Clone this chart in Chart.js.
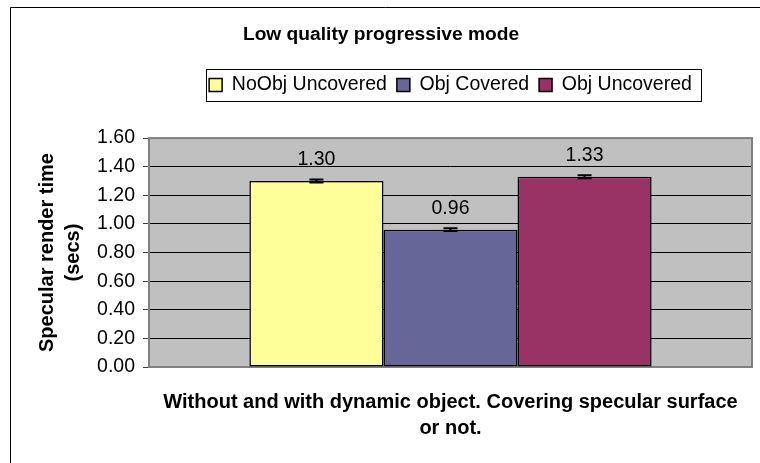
<!DOCTYPE html>
<html>
<head>
<meta charset="utf-8">
<title>Low quality progressive mode</title>
<script src="https://cdn.jsdelivr.net/npm/chart.js@4.4.1/dist/chart.umd.min.js"></script>
<style>
  html,body{margin:0;padding:0;background:#fff;overflow:hidden;}
  #wrap{width:760px;height:463px;position:relative;}
</style>
</head>
<body>
<div id="wrap"><canvas id="renderChart" width="760" height="463"></canvas></div>
<script>
// data
const categories = [''];
const seriesNames = ['NoObj Uncovered', 'Obj Covered', 'Obj Uncovered'];
const noObjUncovered = [1.30];
const objCovered = [0.96];
const objUncovered = [1.33];
const errNoObjUncovered = [0.01];
const errObjCovered = [0.01];
const errObjUncovered = [0.01];
const seriesColors = ['#FFFF99', '#666699', '#993366'];
const yMin = 0, yMax = 1.6, yStep = 0.2;

const chartTitle = 'Low quality progressive mode';
const yTitle = ['Specular render time', '(secs)'];
const xTitle = ['Without and with dynamic object. Covering specular surface', 'or not.'];

const FONT = "'Liberation Sans', Arial, Helvetica, sans-serif";
Chart.defaults.font.family = FONT;
Chart.defaults.color = '#000';

const seriesValues = [noObjUncovered, objCovered, objUncovered];
const seriesErrors = [errNoObjUncovered, errObjCovered, errObjUncovered];

// white page, outer frame and grey plot area
const framePlugin = {
  id: 'frame',
  beforeDraw(chart){
    const ctx = chart.ctx, a = chart.chartArea;
    ctx.save();
    ctx.fillStyle = '#fff';
    ctx.fillRect(0, 0, chart.width, chart.height);
    ctx.strokeStyle = '#000';
    ctx.lineWidth = 1;
    ctx.beginPath();
    ctx.moveTo(10.5, chart.height);
    ctx.lineTo(10.5, 7.5);
    ctx.lineTo(chart.width, 7.5);
    ctx.stroke();
    ctx.fillStyle = '#C0C0C0';
    ctx.fillRect(a.left, a.top, a.right - a.left, a.bottom - a.top);
    ctx.restore();
  },
  beforeDatasetsDraw(chart){
    const ctx = chart.ctx, a = chart.chartArea;
    ctx.save();
    ctx.strokeStyle = '#808080';
    ctx.lineWidth = 2;
    ctx.strokeRect(a.left, a.top, a.right - a.left, a.bottom - a.top);
    ctx.restore();
  }
};

// error bars and value labels
const labelPlugin = {
  id: 'valueLabels',
  afterDatasetsDraw(chart){
    const ctx = chart.ctx, y = chart.scales.y;
    ctx.save();
    chart.data.datasets.forEach((ds, i) => {
      chart.getDatasetMeta(i).data.forEach((bar, j) => {
        const v = ds.data[j], e = seriesErrors[i][j];
        const yHi = y.getPixelForValue(v + e), yLo = y.getPixelForValue(v - e);
        ctx.strokeStyle = '#000';
        ctx.lineWidth = 2;
        ctx.beginPath();
        ctx.moveTo(bar.x, yHi); ctx.lineTo(bar.x, yLo);
        ctx.moveTo(bar.x - 7, yHi); ctx.lineTo(bar.x + 7, yHi);
        ctx.moveTo(bar.x - 7, yLo); ctx.lineTo(bar.x + 7, yLo);
        ctx.stroke();
        ctx.fillStyle = '#000';
        ctx.font = '19.5px ' + FONT;
        ctx.textAlign = 'center';
        ctx.textBaseline = 'middle';
        ctx.fillText(v.toFixed(2), bar.x, bar.y - 21);
      });
    });
    ctx.restore();
  }
};

// box round the legend
const legendFrame = {
  id: 'legendFrame',
  afterDraw(chart){
    const hb = chart.legend && chart.legend.legendHitBoxes;
    if (!hb || !hb.length) return;
    const last = hb[hb.length - 1];
    const left = Math.round(hb[0].left - 3) + 0.5;
    const right = Math.round(last.left + last.width + 9) + 0.5;
    const cy = hb[0].top + hb[0].height / 2;
    const ctx = chart.ctx;
    ctx.save();
    ctx.strokeStyle = '#000';
    ctx.lineWidth = 1;
    ctx.strokeRect(left, Math.round(cy - 16) + 0.5, right - left, 32);
    ctx.restore();
  }
};

new Chart(document.getElementById('renderChart'), {
  type: 'bar',
  data: {
    labels: categories,
    datasets: seriesNames.map((name, i) => ({
      label: name,
      data: seriesValues[i],
      backgroundColor: seriesColors[i],
      borderColor: '#000',
      borderWidth: 1.5,
      borderSkipped: false,
      categoryPercentage: 0.667,
      barPercentage: 1
    }))
  },
  options: {
    responsive: false,
    animation: false,
    devicePixelRatio: 1,
    layout: { padding: { left: 10, right: 8, top: 0, bottom: 0 } },
    plugins: {
      title: {
        display: true, text: chartTitle,
        font: { size: 19.2, weight: 'bold', lineHeight: 1.2 },
        padding: { top: 23.5, bottom: 18.8 }
      },
      subtitle: {
        display: true, text: ' ',
        font: { size: 10, lineHeight: 1 },
        padding: { top: 23.25, bottom: 0 }
      },
      legend: {
        position: 'top', fullSize: false, weight: 1600,
        labels: { font: { size: 19.5 }, boxWidth: 13, boxHeight: 13, padding: 10, color: '#000' }
      },
      tooltip: { enabled: false }
    },
    scales: {
      x: {
        ticks: { display: false },
        grid: { display: false, drawTicks: false },
        border: { display: false },
        title: {
          display: true, text: xTitle,
          font: { size: 20, weight: 'bold', lineHeight: 1.3 },
          padding: { top: 22, bottom: 22 }
        }
      },
      y: {
        min: yMin, max: yMax,
        ticks: { stepSize: yStep, font: { size: 19.5 }, padding: 8, color: '#000',
                 callback: v => Number(v).toFixed(2) },
        grid: { color: '#000', lineWidth: 1, tickLength: 6, tickColor: '#404040' },
        border: { display: false },
        title: {
          display: true, text: yTitle,
          font: { size: 20, weight: 'bold', lineHeight: 1.3 },
          padding: { top: 24, bottom: 0 }
        },
        afterFit(scale){ scale.width = 139; }
      }
    }
  },
  plugins: [framePlugin, labelPlugin, legendFrame]
});
</script>
</body>
</html>
